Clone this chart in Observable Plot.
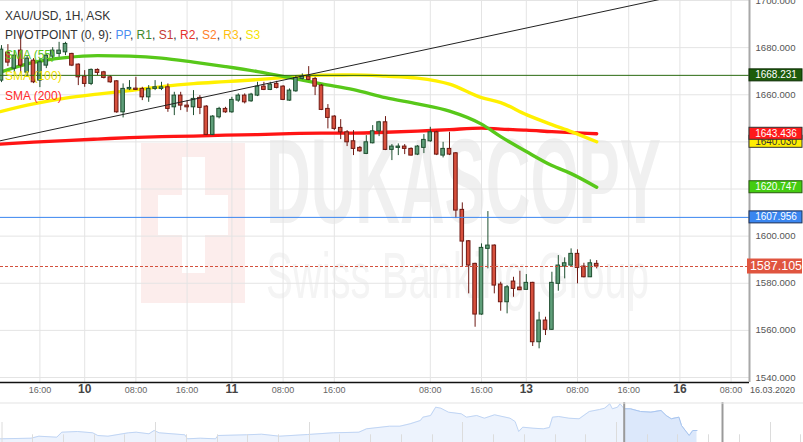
<!DOCTYPE html>
<html><head><meta charset="utf-8">
<script src="https://cdn.jsdelivr.net/npm/d3@7"></script>
<script src="https://cdn.jsdelivr.net/npm/@observablehq/plot@0.6"></script>
<style>
body{margin:0;background:#fff;}
#wrap{position:relative;width:803px;height:442px;overflow:hidden;font-family:"Liberation Sans",Arial,sans-serif;}
#main svg,#nav svg{display:block;}
#legend{position:absolute;left:5px;top:0;font-size:12px;pointer-events:none;}
#legend div{position:absolute;left:0;white-space:nowrap;line-height:14px;}
</style></head>
<body><div id="wrap"><div id="main"></div><div id="nav"></div><div id="legend"></div></div>
<script>
// ---------- data ----------
const opens = [1666.00,1677.88,1671.09,1678.73,1669.39,1674.48,1666.00,1672.36,1676.18,1677.33,1678.01,1677.33,1672.79,1667.70,1664.60,1670.54,1669.52,1667.40,1665.70,1652.55,1662.31,1662.60,1662.48,1658.91,1662.48,1662.48,1663.16,1654.67,1659.64,1655.39,1654.67,1658.66,1654.97,1642.96,1650.43,1653.99,1652.55,1657.51,1659.64,1657.22,1659.64,1663.45,1662.05,1664.60,1663.45,1657.51,1661.46,1666.72,1667.70,1666.72,1663.88,1653.99,1650.73,1645.93,1644.06,1640.25,1637.45,1634.90,1639.40,1644.49,1648.31,1636.60,1637.45,1638.00,1637.02,1634.60,1637.45,1640.25,1644.06,1634.18,1637.02,1635.15,1611.14,1597.82,1588.23,1566.72,1594.59,1595.99,1579.45,1571.94,1580.72,1578.17,1577.20,1580.17,1554.97,1564.18,1560.23,1579.75,1587.08,1587.51,1592.47,1587.08,1582.54,1588.23];
const highs = [1680.85,1681.27,1678.73,1687.21,1676.61,1675.33,1675.33,1677.45,1680.00,1682.25,1682.25,1677.60,1673.08,1670.24,1670.96,1670.96,1669.94,1668.12,1666.00,1664.60,1666.00,1667.40,1663.16,1663.88,1666.00,1665.28,1664.60,1661.04,1661.04,1657.51,1661.76,1659.64,1655.39,1651.15,1654.67,1654.67,1658.91,1660.36,1660.36,1660.61,1665.28,1665.28,1665.28,1665.70,1663.88,1662.48,1668.12,1668.84,1671.94,1667.40,1664.30,1655.82,1651.15,1649.45,1644.79,1644.79,1638.00,1642.66,1646.91,1648.73,1650.73,1638.85,1639.14,1638.85,1637.45,1638.42,1643.09,1646.19,1644.49,1639.82,1644.06,1635.45,1614.11,1598.12,1588.50,1596.71,1610.42,1596.30,1580.42,1579.02,1582.54,1585.09,1583.69,1580.40,1567.70,1565.58,1584.67,1591.75,1590.78,1594.59,1594.17,1588.48,1589.93,1589.63];
const lows = [1665.15,1671.94,1669.39,1668.97,1668.12,1664.73,1663.03,1671.09,1675.33,1675.88,1676.61,1671.94,1663.88,1663.16,1663.88,1668.12,1666.72,1664.85,1652.13,1650.17,1661.76,1661.76,1657.51,1656.79,1661.76,1661.76,1652.55,1651.15,1653.27,1652.55,1651.15,1651.57,1642.66,1642.66,1649.75,1652.13,1652.13,1656.79,1656.11,1656.79,1659.21,1661.76,1661.76,1662.48,1657.51,1657.22,1661.04,1666.30,1666.00,1659.64,1653.27,1645.51,1644.79,1640.97,1638.00,1634.18,1635.58,1634.60,1639.14,1642.24,1636.30,1632.06,1634.18,1634.60,1634.00,1634.18,1635.03,1639.82,1634.18,1633.20,1634.18,1607.45,1586.79,1575.50,1561.33,1566.40,1586.11,1575.50,1568.12,1567.02,1574.06,1576.90,1577.00,1553.15,1552.17,1557.81,1560.00,1576.61,1581.87,1586.79,1579.75,1582.29,1582.40,1586.11];
const closes = [1679.15,1673.64,1676.61,1672.36,1675.33,1665.28,1673.76,1676.61,1678.73,1678.73,1681.57,1672.36,1667.40,1664.60,1670.54,1669.27,1667.14,1665.28,1652.55,1662.48,1662.90,1662.05,1658.91,1662.48,1663.16,1663.16,1653.99,1659.64,1655.39,1654.67,1658.24,1654.42,1642.96,1650.73,1653.99,1652.55,1657.81,1659.64,1656.79,1660.06,1663.45,1662.05,1664.30,1662.90,1657.81,1661.76,1667.14,1667.70,1666.30,1663.45,1653.57,1650.17,1645.51,1644.06,1639.82,1637.02,1636.00,1639.82,1644.49,1648.31,1636.60,1638.00,1638.00,1637.02,1634.18,1638.00,1640.84,1644.06,1634.60,1637.02,1634.60,1610.84,1597.69,1587.51,1566.72,1595.01,1595.99,1579.02,1571.94,1578.30,1577.62,1577.03,1580.17,1554.97,1564.18,1560.23,1580.17,1587.51,1588.48,1592.47,1586.53,1582.54,1588.48,1587.10];

const smaIdx = [-0.2,5,10,15,20,25,30,35,40,45,50,55,60,65,70,75,78,82,86,89,93];
const sma55  = [1669.61,1673.76,1675.76,1676.61,1676.39,1675.55,1673.85,1671.94,1669.82,1667.27,1664.60,1662.18,1658.79,1656.11,1653.06,1647.54,1642.24,1635.88,1629.94,1626.54,1620.75];
const sma100 = [1652.85,1656.11,1658.57,1660.27,1661.76,1663.45,1664.73,1665.57,1666.42,1667.48,1668.33,1668.42,1667.91,1667.06,1664.51,1658.79,1656.67,1651.57,1647.33,1644.36,1640.03];
const sma200 = [1639.06,1639.91,1640.54,1641.18,1641.82,1642.24,1642.45,1642.88,1643.09,1643.51,1643.72,1643.72,1644.06,1644.57,1645.21,1645.85,1645.42,1645.00,1644.36,1643.94,1643.44];

const trendIdx = [-1, 105];
const trendVal = [1640.0, 1701.7];

const levelVals = [1668.231, 1640.030, 1643.436, 1620.747, 1607.956, 1587.105];

const yTicks = [1540,1560,1580,1600,1620,1640,1660,1680,1700];
const xTickIdx = [6,13,21,29,36,44,52,67,75,82,90,98,106,114];
const xTickLabels = ["16:00","10","08:00","16:00","11","08:00","16:00","08:00","16:00","13","08:00","16:00","16","08:00"];
const dateLabel = "16.03.2020";

const titleText = "XAU/USD, 1H, ASK";
const pivotHead = "PIVOTPOINT (0, 9): ";
const pivotNames = ["PP","R1","S1","R2","S2","R3","S3"];
const smaNames = ["SMA (55)","SMA (100)","SMA (200)"];

const navX = [0,30.7,38.4,56.3,61.4,76.8,92.2,97.3,107.5,128,135.7,148.5,153.6,158.7,184.3,186.9,199.7,215,217.6,245.8,261.1,279,307.2,332.8,358.4,366.1,389.1,399.4,409.6,419.9,422.4,430.1,435.2,440.3,448,460.8,466,476.2,483.9,494.1,509.5,514.6,518.2,522.3,532.5,542.8,548.9,552,558.1,568.4,578.6,588.8,599.1,604.2,609.3,611.9,617,619.6,623.7,629.8,640,650.3,660.5,665.6,670.8,678.4,681,686.1,688.7,692.3,696.4];
const navH = [3.7,4.3,6.3,5.3,10.3,11,9.7,7,6.3,9.7,10.3,8.7,12,9.7,7.7,3.7,4.3,3.7,7,7.7,8.3,6.3,8,9.7,10.3,13.7,16.3,16.3,18.7,22,25.3,27,35.3,34.3,30.3,28.7,25.3,27,24.3,27.7,24.3,21,11,15.3,14.3,13.7,15,25.3,26,24.3,23.7,31,33,34.3,38.7,33.7,35.3,38.7,33.7,33.7,31,30.3,32,27,23.7,25.3,17,10.3,7,12,12];
const navTicks = [1.5,32,63,94,124,155,186,217,247,278,309,339,370,401,432,462,493,524,555,585,616,647,677,708,739,770,800];
const navSel = [623.7, 722];

// ---------- styles ----------
const FONT = "Liberation Sans, Arial, sans-serif";
const UP_FILL = "#5f9e79", UP_EDGE = "#1f4f30", DN_FILL = "#d6503d", DN_EDGE = "#6e1812";
const SMA_COLORS = ["#58c81a", "#fff000", "#ff1414"];
const PIVOT_COLORS = ["#4b8ef0","#3f8a2e","#c43a32","#e5322c","#ff7f2a","#ffbf10","#f5e400"];
const LEGEND_COLORS = ["#5cc720","#f0e000","#ff2a2a"];
const BOX = [
  {fill:"#1d5c0b", text:"#fff", stroke:"#0b2a03", fs:10, h:12},
  {fill:"#ffee00", text:"#333", stroke:"#333", fs:10, h:12},
  {fill:"#ff1a1a", text:"#fff", stroke:"#333", fs:10, h:12},
  {fill:"#44cc11", text:"#fff", stroke:"#2a5a10", fs:10, h:12},
  {fill:"#3a86f0", text:"#fff", stroke:"#1d2f55", fs:10, h:12},
  {fill:"#e0553f", text:"#fff", stroke:"none", fs:12.5, h:15}
];

// ---------- tables ----------
const candles = opens.map((o, i) => ({i, open: o, high: highs[i], low: lows[i], close: closes[i]}));
const up = candles.filter(d => d.close >= d.open);
const down = candles.filter(d => d.close < d.open);
const smaRows = s => smaIdx.map((x, k) => ({x, v: s[k]}));
const trendRows = trendIdx.map((x, k) => ({x, v: trendVal[k]}));
const tickRows = xTickIdx.map((x, k) => ({x, label: xTickLabels[k], day: /^\d+$/.test(xTickLabels[k])}));
const yDomain = [1537.88, 1700];
const xDomain = [-0.156, 116.875];
const HW = 0.28;

const main = Plot.plot({
  width: 803, height: 402,
  marginLeft: 0, marginRight: 54, marginTop: 0, marginBottom: 20,
  x: {domain: xDomain, axis: null},
  y: {domain: yDomain, axis: null},
  style: {background: "#fff", fontFamily: FONT, overflow: "hidden"},
  marks: [
    Plot.ruleY(yTicks, {stroke: "#e4e4e4"}),
    Plot.ruleX(xTickIdx, {stroke: "#e4e4e4"}),
    Plot.line(smaRows(sma200), {x: "x", y: "v", stroke: SMA_COLORS[2], strokeWidth: 3.4, curve: "monotone-x"}),
    Plot.line(smaRows(sma100), {x: "x", y: "v", stroke: SMA_COLORS[1], strokeWidth: 3.4, curve: "monotone-x"}),
    Plot.line(smaRows(sma55), {x: "x", y: "v", stroke: SMA_COLORS[0], strokeWidth: 3.4, curve: "monotone-x"}),
    Plot.ruleX(up, {x: "i", y1: "low", y2: "high", stroke: UP_EDGE, strokeWidth: 1}),
    Plot.ruleX(down, {x: "i", y1: "low", y2: "high", stroke: DN_EDGE, strokeWidth: 1}),
    Plot.rect(up, {x1: d => d.i - HW, x2: d => d.i + HW, y1: "open", y2: "close", fill: UP_FILL, stroke: UP_EDGE, strokeWidth: 1}),
    Plot.rect(down, {x1: d => d.i - HW, x2: d => d.i + HW, y1: "open", y2: "close", fill: DN_FILL, stroke: DN_EDGE, strokeWidth: 1}),
    Plot.ruleY([levelVals[0]], {stroke: "#2a6a10", strokeWidth: 1}),
    Plot.ruleY([levelVals[4]], {stroke: "#3a86f0", strokeWidth: 1}),
    Plot.ruleY([levelVals[5]], {stroke: "#d4503c", strokeWidth: 1, strokeDasharray: "3,2"}),
    Plot.line(trendRows, {x: "x", y: "v", stroke: "#222", strokeWidth: 1}),
    Plot.ruleY([yDomain[0]], {stroke: "#111", strokeWidth: 1.5}),
    Plot.ruleX([xDomain[1]], {stroke: "#a8a8a8", strokeWidth: 2}),
    Plot.text(yTicks, {y: d => d, text: d => d.toFixed(3), frameAnchor: "right", dx: 6, textAnchor: "start", fontSize: 9.6, fill: "#555"}),
    Plot.text(tickRows.filter(d => !d.day), {x: "x", text: "label", frameAnchor: "bottom", dy: 10, fontSize: 9, fill: "#666"}),
    Plot.text(tickRows.filter(d => d.day), {x: "x", text: "label", frameAnchor: "bottom", dy: 10, fontSize: 12, fontWeight: "bold", fill: "#444"}),
    Plot.text([dateLabel], {text: d => d, frameAnchor: "bottom-right", textAnchor: "middle", dx: 23, dy: 10, fontSize: 9, fill: "#555"})
  ]
});
document.getElementById("main").append(main);

// watermark & price boxes
const NS = "http://www.w3.org/2000/svg";
function el(tag, attrs, text) {
  const e = document.createElementNS(NS, tag);
  for (const k in attrs) e.setAttribute(k, attrs[k]);
  if (text != null) e.textContent = text;
  return e;
}
const wm = el("g", {"text-anchor": "start"});
wm.append(el("rect", {x: 141, y: 143, width: 104, height: 160, fill: "#fcedec"}));
wm.append(el("rect", {x: 182, y: 157, width: 23, height: 116, fill: "#fff"}));
wm.append(el("rect", {x: 158, y: 195, width: 70, height: 40, fill: "#fff"}));
wm.append(el("text", {x: 266, y: 223, "font-size": 120, "font-weight": "bold", fill: "#f0f0f0", textLength: 395, lengthAdjust: "spacingAndGlyphs", "font-family": FONT, "text-anchor": "start"}, "DUKASCOPY"));
wm.append(el("text", {x: 266, y: 298, "font-size": 64, fill: "#f4f4f4", textLength: 383, lengthAdjust: "spacingAndGlyphs", "font-family": FONT, "text-anchor": "start"}, "Swiss Banking Group"));
main.insertBefore(wm, main.firstChild);

const ys = main.scale("y");
const yf = d3.scaleLinear(ys.domain, ys.range);
const boxes = el("g", {"font-family": FONT});
levelVals.forEach((v, k) => {
  const s = BOX[k], cy = yf(v);
  const x0 = k === 5 ? 747 : 749;
  boxes.append(el("rect", {x: x0, y: cy - s.h / 2, width: 803 - x0 - 1, height: s.h, fill: s.fill, stroke: s.stroke, "stroke-width": 1}));
  boxes.append(el("text", {x: 776, y: cy, "font-size": s.fs, fill: s.text, "text-anchor": "middle", dy: "0.35em"}, v.toFixed(3)));
});
main.append(boxes);

// navigator
const navRows = navX.map((x, k) => ({x, h: navH[k]}));
const selRows = navRows.filter(d => d.x >= navSel[0]);
const nav = Plot.plot({
  width: 803, height: 40, margin: 0,
  x: {domain: [0, 803], axis: null},
  y: {domain: [0, 40], axis: null},
  style: {background: "#fff", overflow: "hidden"},
  marks: [
    Plot.areaY(navRows, {x: "x", y: "h", fill: "#edf3fd"}),
    Plot.lineY(navRows, {x: "x", y: "h", stroke: "#c0d5f4", strokeWidth: 1}),
    Plot.areaY(selRows, {x: "x", y: "h", fill: "#dce8fb"}),
    Plot.lineY(selRows, {x: "x", y: "h", stroke: "#a8c5ef", strokeWidth: 1}),
    Plot.ruleX(navTicks.filter((d, k) => k % 5 !== 0), {y1: 0, y2: 7.7, stroke: "#dcdcdc"}),
    Plot.ruleX(navTicks.filter((d, k) => k % 5 === 0), {y1: 0, y2: 20, stroke: "#dcdcdc"}),
    Plot.ruleX(navSel, {stroke: "#9a9a9a", strokeWidth: 2}),
    Plot.ruleY([39.5], {stroke: "#e3e3e3"})
  ]
});
document.getElementById("nav").append(nav);

// legend overlay
const lg = document.getElementById("legend");
function line(top, color) { const d = document.createElement("div"); d.style.top = top + "px"; d.style.color = color; lg.append(d); return d; }
line(9, "#333").textContent = titleText;
const pv = line(28, "#333");
pv.append(document.createTextNode(pivotHead));
pivotNames.forEach((n, k) => {
  const sp = document.createElement("span"); sp.style.color = PIVOT_COLORS[k]; sp.textContent = n; pv.append(sp);
  if (k < pivotNames.length - 1) pv.append(document.createTextNode(", "));
});
[48, 69, 89].forEach((t, k) => { line(t, LEGEND_COLORS[k]).textContent = smaNames[k]; });
</script>
</body></html>
